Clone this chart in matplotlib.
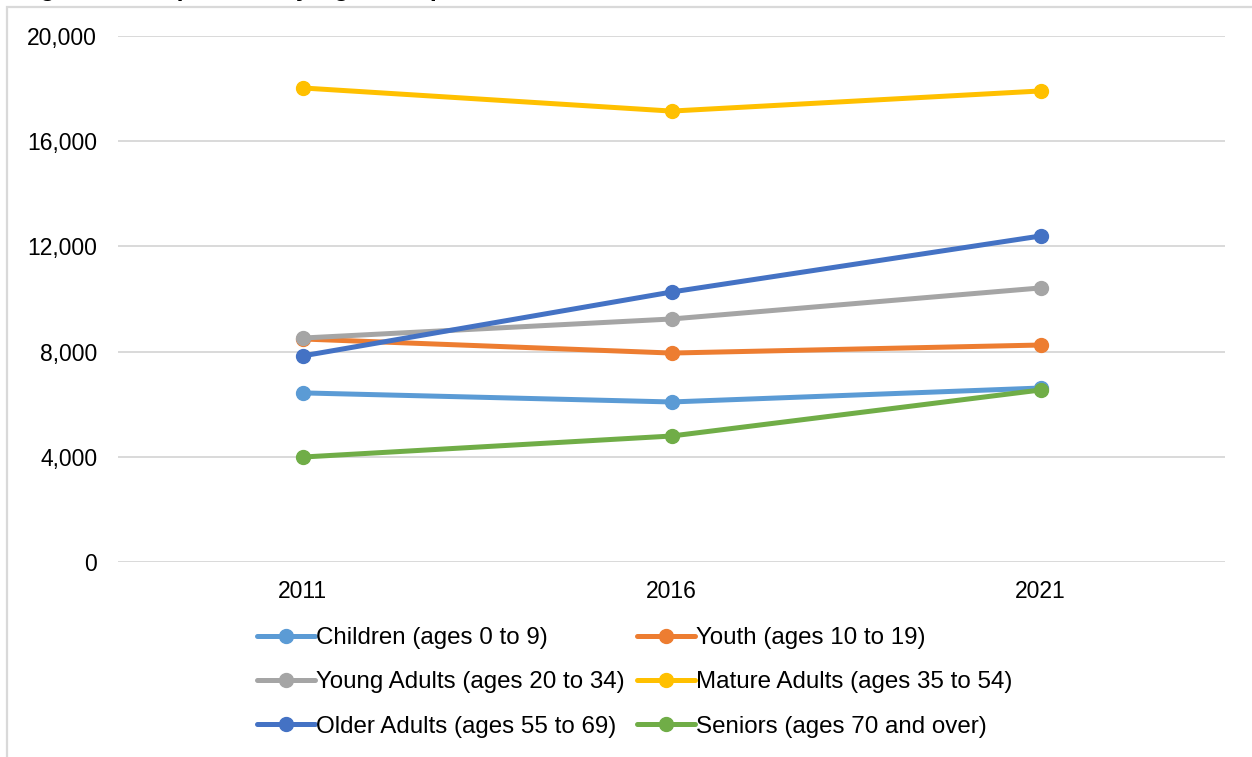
import matplotlib
matplotlib.use("Agg")
from matplotlib import pyplot as plt
from matplotlib.patches import Rectangle

plt.rcParams['font.family'] = ['Liberation Sans', 'DejaVu Sans']

years = ["2011", "2016", "2021"]
labels = ["Children (ages 0 to 9)", "Youth (ages 10 to 19)",
          "Young Adults (ages 20 to 34)", "Mature Adults (ages 35 to 54)",
          "Older Adults (ages 55 to 69)", "Seniors (ages 70 and over)"]
children = [6430, 6085, 6615]
youth = [8480, 7945, 8250]
young_adults = [8515, 9240, 10420]
mature_adults = [18025, 17145, 17910]
older_adults = [7835, 10265, 12395]
seniors = [3990, 4790, 6540]
colors = ["#5B9BD5", "#ED7D31", "#A5A5A5", "#FFC000", "#4472C4", "#70AD47"]

series = [children, youth, young_adults, mature_adults, older_adults, seniors]

fig = plt.figure(figsize=(12.52, 7.57), dpi=100)
ax = fig.add_axes([118/1252, 1-562/757, 1107/1252, 526/757])

x = range(len(years))
handles = []
for vals, lab, c in zip(series, labels, colors):
    h, = ax.plot(x, vals, color=c, lw=3.6, marker='o', markersize=10,
                 solid_capstyle='round', label=lab, zorder=3)
    handles.append(h)

ax.set_xlim(-0.5, 2.5)
ax.set_ylim(0, 20000)
ax.set_xticks(list(x))
ax.set_xticklabels(years)
ax.set_yticks([0, 4000, 8000, 12000, 16000, 20000])
ax.set_yticklabels(["0", "4,000", "8,000", "12,000", "16,000", "20,000"])
ax.tick_params(axis='both', length=0, labelsize=16.5, colors='black')
ax.tick_params(axis='y', pad=15)
ax.tick_params(axis='x', pad=13)
ax.grid(axis='y', color='#D9D9D9', lw=1.4, zorder=0)
for s in ax.spines.values():
    s.set_visible(False)

# legend rows: children/youth, young/mature, older/seniors
order = [0, 2, 4, 1, 3, 5]
fig.legend([handles[i] for i in order], [labels[i] for i in order],
           ncol=2, loc='upper left', bbox_to_anchor=(257/1252, 1-627/757),
           frameon=False, fontsize=17.4, handlelength=2.4, handletextpad=0.05,
           columnspacing=0.5, labelspacing=0.93, borderpad=0, borderaxespad=0)

# outer chart border and clipped title
fig.patches.append(Rectangle((6.5/1252, -0.1), 1.2, 1-6.5/757+0.1, transform=fig.transFigure,
                             fill=False, edgecolor='#D9D9D9', lw=1.6))
fig.text(18/1252, 1+4/757, "Figure 12: Population by Age Group, 2011 to 2021",
         fontsize=18, fontweight='bold', va='baseline', ha='left')

fig.savefig("out.png", dpi=100)
